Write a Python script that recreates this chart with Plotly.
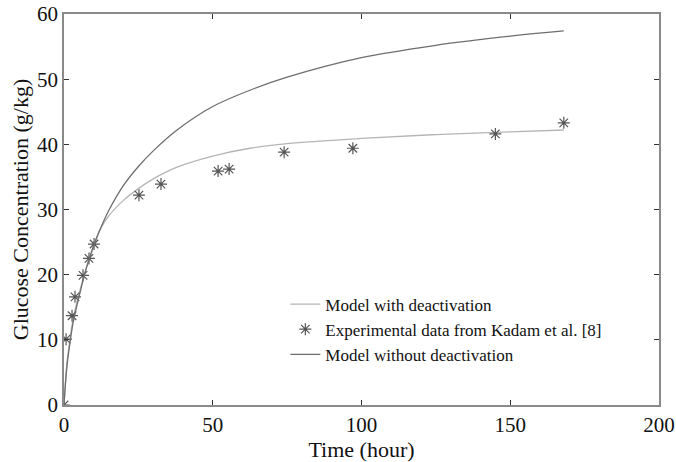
import plotly.graph_objects as go

# Experimental data (Kadam et al.)
exp_time = [0, 0.7, 2.7, 3.7, 6.4, 8.4, 10.1, 25.2, 32.6, 51.8, 55.5, 74, 97.1, 145, 168]
exp_glucose = [0, 10.1, 13.7, 16.6, 19.9, 22.5, 24.7, 32.2, 33.9, 35.9, 36.2, 38.8, 39.4, 41.6, 43.3]

# Model curves
model_time = [0, 1, 2, 3, 5, 7.5, 10, 12, 15, 20, 25, 30, 38, 50, 62.5, 75, 100, 125, 150, 168]
model_with_deact = [0, 6.5, 10, 13, 17, 21, 24.3, 26.8, 29, 31.4, 33.2, 34.7, 36.5, 38.2, 39.4,
                    40.1, 40.9, 41.5, 41.9, 42.2]
model_without_deact = [0, 6, 9.5, 12.5, 16.5, 21, 24.5, 26.8, 29.8, 33.7, 36.6, 39.0, 42.2, 45.8, 48.3,
                       50.3, 53.3, 55.2, 56.6, 57.4]

x_ticks = [0, 50, 100, 150, 200]
y_ticks = [0, 10, 20, 30, 40, 50, 60]

font_family = "Liberation Serif"

fig = go.Figure()
fig.add_trace(go.Scatter(
    x=model_time, y=model_with_deact, mode="lines", name="Model with deactivation",
    line=dict(color="#b5b5b5", width=1.3, shape="spline")))
fig.add_trace(go.Scatter(
    x=exp_time, y=exp_glucose, mode="markers", name="Experimental data from Kadam et al. [8]",
    marker=dict(symbol="asterisk-open", size=10, color="#555555", line=dict(color="#555555", width=1.2))))
fig.add_trace(go.Scatter(
    x=model_time, y=model_without_deact, mode="lines", name="Model without deactivation",
    line=dict(color="#6e6e6e", width=1.3, shape="spline")))

axis_common = dict(
    showgrid=False, zeroline=False, showline=True, linecolor="#8a8a8a", linewidth=1.5,
    mirror="ticks", ticks="inside", ticklen=5, tickcolor="#333333", tickwidth=1,
    tickfont=dict(family=font_family, size=21, color="#111111"), automargin=False,
)

fig.update_layout(
    width=676, height=462,
    margin=dict(l=64, r=17, t=14, b=57),
    paper_bgcolor="white", plot_bgcolor="white",
    font=dict(family=font_family, size=17, color="#111111"),
    showlegend=True,
    legend=dict(x=0.372, y=0.303, xanchor="left", yanchor="top", bgcolor="rgba(0,0,0,0)",
                font=dict(family=font_family, size=17, color="#111111"), tracegroupgap=0),
    xaxis=dict(range=[0, 200], tickvals=x_ticks,
               title=dict(text="Time (hour)", font=dict(family=font_family, size=22), standoff=0),
               **axis_common),
    yaxis=dict(range=[0, 60], tickvals=y_ticks,
               title=dict(text="Glucose Concentration (g/kg)", font=dict(family=font_family, size=22), standoff=2),
               **axis_common),
)

fig.write_html("out.html")
